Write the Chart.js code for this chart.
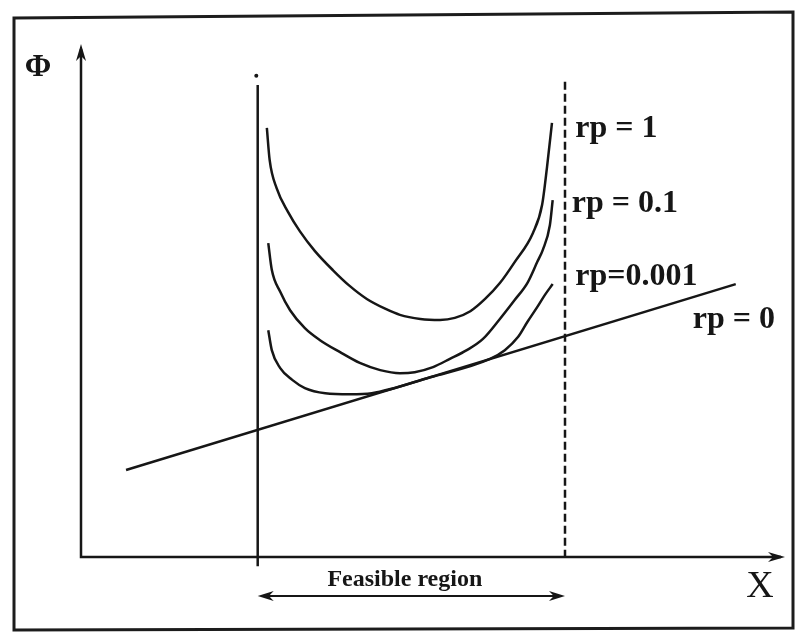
<!DOCTYPE html>
<html>
<head>
<meta charset="utf-8">
<title>Penalty function - feasible region</title>
<script src="https://cdn.jsdelivr.net/npm/chart.js@4.4.0/dist/chart.umd.min.js"></script>
<style>
    html, body { margin: 0; padding: 0; background: #fff; }
    #chart-wrap { width: 799px; height: 632px; }
</style>
</head>
<body>
<div id="chart-wrap"><canvas id="penalty-chart" width="799" height="632"></canvas></div>
<script>
// --- Data (abstract units: X 0..100, Phi 0..100) ---
const seriesLabels = ['rp = 1', 'rp = 0.1', 'rp=0.001', 'rp = 0'];

const rp1X = [26.4, 26.8, 27.8, 29.4, 31.1, 33.2, 35.8, 38.2, 40.6, 43.2, 45.3, 48.2, 51.0, 53.1, 55.3, 57.4, 59.5, 61.6, 64.2, 65.5, 66.2, 66.9];
const rp1Y = [83.8, 77.5, 72.0, 67.4, 63.6, 59.8, 56.0, 52.9, 50.4, 48.5, 47.3, 46.5, 46.3, 46.7, 48.0, 50.4, 53.5, 57.6, 63.3, 68.8, 76.2, 84.8];

const rp01X = [26.6, 27.1, 28.3, 29.7, 31.8, 33.9, 36.8, 39.6, 42.5, 45.3, 47.4, 50.0, 52.4, 54.8, 57.1, 59.5, 61.6, 63.4, 64.8, 65.6, 66.6, 67.0];
const rp01Y = [61.3, 56.1, 51.8, 48.2, 44.7, 42.4, 40.0, 37.9, 36.5, 35.9, 36.1, 37.1, 38.7, 40.4, 42.6, 46.5, 50.2, 53.5, 57.6, 60.0, 64.8, 69.7];

const rp0001X = [26.6, 27.1, 28.3, 30.0, 31.8, 34.7, 38.2, 41.3, 49.6, 58.1, 60.2, 62.1, 63.4, 64.8, 65.9, 67.0];
const rp0001Y = [44.3, 40.4, 36.9, 34.6, 33.0, 32.0, 31.8, 32.0, 35.1, 38.7, 40.4, 43.0, 45.9, 48.8, 51.2, 53.3];

const rp0X = [6.4, 93.0];
const rp0Y = [17.0, 53.3];

// feasible region bounds (constraint boundaries)
const lowerBoundX = 25.1;
const upperBoundX = 68.75;
const boundTopY = [92.2, 92.8];

function toPoints(xs, ys) {
    return xs.map((x, i) => ({ x: x, y: ys[i] }));
}

const INK = '#161616';
const SERIF = '"Liberation Serif", "Times New Roman", serif';

// --- Annotation positions (data units) ---
const labelPos = [
    { x: 70.2, y: 82.0 },
    { x: 69.7, y: 67.4 },
    { x: 70.2, y: 53.1 },
    { x: 86.9, y: 44.7 }
];

function arrowHead(ctx, tipX, tipY, angle, len, half) {
    ctx.save();
    ctx.translate(tipX, tipY);
    ctx.rotate(angle);
    ctx.beginPath();
    ctx.moveTo(0, 0);
    ctx.lineTo(-len, -half);
    ctx.lineTo(-len * 0.7, 0);
    ctx.lineTo(-len, half);
    ctx.closePath();
    ctx.fill();
    ctx.restore();
}

// draws frame, axes with arrows and all text
const sketchPlugin = {
    id: 'sketch',
    beforeDraw(chart) {
        const ctx = chart.ctx;
        ctx.save();
        ctx.fillStyle = '#fff';
        ctx.fillRect(0, 0, chart.width, chart.height);
        // scanned frame
        ctx.strokeStyle = '#1c1c1c';
        ctx.lineWidth = 3;
        ctx.beginPath();
        ctx.moveTo(14, 18);
        ctx.lineTo(793, 12);
        ctx.lineTo(793, 628);
        ctx.lineTo(14, 630);
        ctx.closePath();
        ctx.stroke();
        ctx.restore();
    },
    afterDraw(chart) {
        const ctx = chart.ctx;
        const area = chart.chartArea;
        const xs = chart.scales.x;
        const ys = chart.scales.y;

        ctx.save();
        ctx.strokeStyle = INK;
        ctx.fillStyle = INK;
        ctx.lineWidth = 2.5;

        // axes
        ctx.beginPath();
        ctx.moveTo(area.left, area.top + 4);
        ctx.lineTo(area.left, area.bottom);
        ctx.lineTo(area.right - 4, area.bottom);
        ctx.stroke();
        arrowHead(ctx, area.left, area.top - 1, -Math.PI / 2, 17, 5);
        arrowHead(ctx, area.right, area.bottom, 0, 17, 5);

        // feasible region double arrow
        const ay = ys.getPixelForValue(-7.6);
        const ax1 = xs.getPixelForValue(lowerBoundX);
        const ax2 = xs.getPixelForValue(upperBoundX);
        ctx.lineWidth = 2;
        ctx.beginPath();
        ctx.moveTo(ax1 + 8, ay);
        ctx.lineTo(ax2 - 8, ay);
        ctx.stroke();
        arrowHead(ctx, ax1, ay, Math.PI, 16, 5);
        arrowHead(ctx, ax2, ay, 0, 16, 5);

        // curve labels
        ctx.textBaseline = 'alphabetic';
        ctx.textAlign = 'left';
        ctx.font = 'bold 32px ' + SERIF;
        seriesLabels.forEach((txt, i) => {
            ctx.fillText(txt, xs.getPixelForValue(labelPos[i].x), ys.getPixelForValue(labelPos[i].y));
        });

        // axis titles
        ctx.font = 'bold 32px ' + SERIF;
        ctx.fillText('\u03A6', xs.getPixelForValue(-8.0), ys.getPixelForValue(93.9));
        ctx.font = '38px ' + SERIF;
        ctx.fillText('X', xs.getPixelForValue(94.5), ys.getPixelForValue(-7.8));

        ctx.font = 'bold 24px ' + SERIF;
        ctx.textAlign = 'center';
        ctx.fillText('Feasible region', xs.getPixelForValue(46.0), ys.getPixelForValue(-5.6));
        ctx.restore();
    }
};

const lineStyle = {
    showLine: true,
    borderColor: INK,
    borderWidth: 2.5,
    pointRadius: 0,
    fill: false,
    clip: false
};

const curveStyle = { ...lineStyle, cubicInterpolationMode: 'monotone' };

const penaltyChart = new Chart(document.getElementById('penalty-chart').getContext('2d'), {
    type: 'scatter',
    data: {
        datasets: [
            { ...curveStyle, label: seriesLabels[0], data: toPoints(rp1X, rp1Y) },
            { ...curveStyle, label: seriesLabels[1], data: toPoints(rp01X, rp01Y) },
            { ...curveStyle, label: seriesLabels[2], data: toPoints(rp0001X, rp0001Y) },
            { ...lineStyle, label: seriesLabels[3], data: toPoints(rp0X, rp0Y), tension: 0 },
            // lower bound: solid, runs a little below the X axis
            { ...lineStyle, label: 'lower', data: [{ x: lowerBoundX, y: boundTopY[0] }, { x: lowerBoundX, y: -1.8 }], tension: 0 },
            { ...lineStyle, label: 'lower-dot', showLine: false, pointRadius: 2, pointBackgroundColor: INK, pointBorderWidth: 0,
              data: [{ x: lowerBoundX - 0.2, y: boundTopY[0] + 1.8 }] },
            // upper bound: dashed
            { ...lineStyle, label: 'upper', borderDash: [8, 4], data: [{ x: upperBoundX, y: boundTopY[1] }, { x: upperBoundX, y: 0 }], tension: 0 }
        ]
    },
    options: {
        responsive: false,
        devicePixelRatio: 1,
        animation: false,
        layout: { padding: { left: 81, right: 14, top: 45, bottom: 75 } },
        scales: {
            x: { type: 'linear', min: 0, max: 100, display: false },
            y: { type: 'linear', min: 0, max: 100, display: false }
        },
        plugins: {
            legend: { display: false },
            tooltip: { enabled: false }
        }
    },
    plugins: [sketchPlugin]
});
</script>
</body>
</html>
